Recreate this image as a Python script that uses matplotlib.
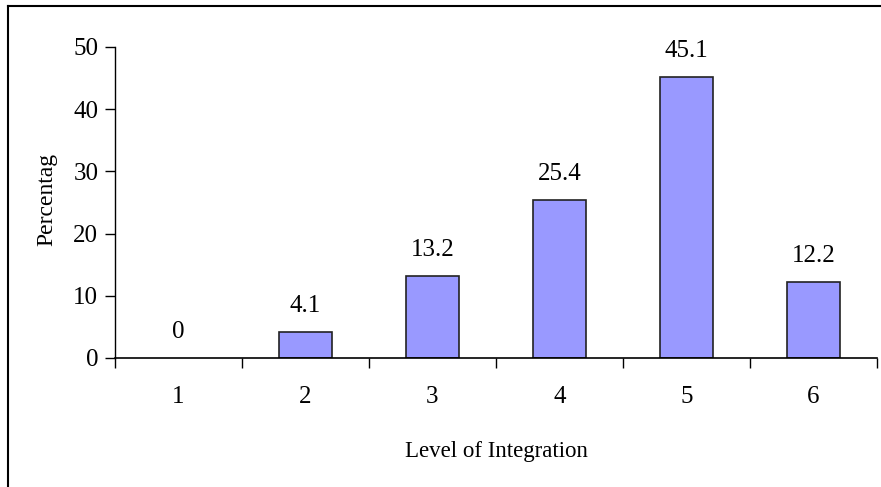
import matplotlib.pyplot as plt
import numpy as np
from matplotlib.lines import Line2D

levels = ['1', '2', '3', '4', '5', '6']
percent = [0, 4.1, 13.2, 25.4, 45.1, 12.2]
value_labels = ['0', '4.1', '13.2', '25.4', '45.1', '12.2']

plt.rcParams['font.family'] = 'Liberation Serif'

fig = plt.figure(figsize=(8.81, 4.87), dpi=100, facecolor='white')
ax = fig.add_axes([0.1305, 0.2649, 0.865, 0.6386])

x = np.arange(len(levels))
edges = ['#222222' if v > 0 else 'none' for v in percent]
ax.bar(x, percent, width=0.41, color='#9999FF', edgecolor=edges, linewidth=1.2)

for xi, v, lab in zip(x, percent, value_labels):
    ax.annotate(lab, (xi, v), xytext=(0, 11), textcoords='offset points',
                ha='center', va='bottom', fontsize=18)

ax.set_xlim(-0.5, len(levels) - 0.5)
ax.set_ylim(0, 50)
ax.set_yticks([0, 10, 20, 30, 40, 50])
ax.set_xticks(x)
ax.set_xticklabels(levels)
ax.set_xticks(np.arange(len(levels) + 1) - 0.5, minor=True)
ax.tick_params(axis='x', which='major', length=0, pad=20, labelsize=18)
ax.tick_params(axis='x', which='minor', length=7, width=1, direction='out')
ax.tick_params(axis='y', length=7, width=1, direction='out', pad=5, labelsize=18)

ax.spines['top'].set_visible(False)
ax.spines['right'].set_visible(False)
ax.spines['left'].set_linewidth(1)
ax.spines['bottom'].set_linewidth(1.2)

fig.text(0.563, 1 - 457 / 487, 'Level of Integration', fontsize=16.5,
         ha='center', va='baseline')
fig.text(0.053, 0.59, 'Percentag', rotation=90, fontsize=17, ha='center', va='center')

# outer chart border (only left and top visible)
fig.add_artist(Line2D([0.0095, 0.0095], [0, 0.987], color='black', linewidth=1.5, transform=fig.transFigure))
fig.add_artist(Line2D([0.0095, 1.0], [0.987, 0.987], color='black', linewidth=1.5, transform=fig.transFigure))

fig.savefig('out.png', dpi=100)
